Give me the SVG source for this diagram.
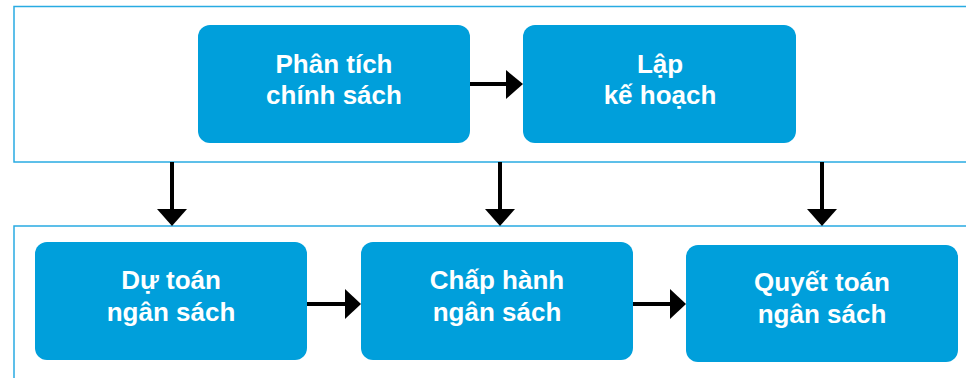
<svg xmlns="http://www.w3.org/2000/svg" width="966" height="378" viewBox="0 0 966 378">
<style>
.frame{fill:none;stroke:#29abe2;stroke-width:1.5}
.box{fill:#009fdb}
.lbl{fill:#fff;font-family:"Liberation Sans",Arial,sans-serif;font-weight:bold;font-size:26px;text-anchor:middle}
.conn{stroke:#000;stroke-width:4;fill:none}
.head{fill:#000}
</style>
<rect width="966" height="378" fill="#fff"/>
<rect class="frame" x="14" y="6.5" width="1000" height="155.5"/>
<rect class="frame" x="14" y="226" width="1000" height="200"/>
<g id="phan-tich">
<rect class="box" x="198" y="25" width="272" height="118" rx="12"/>
<text class="lbl" x="334" y="72.5">Phân tích</text>
<text class="lbl" x="334" y="104">chính sách</text>
</g>
<g id="lap-ke-hoach">
<rect class="box" x="523" y="25" width="273" height="118" rx="12"/>
<text class="lbl" x="660" y="72.5">Lập</text>
<text class="lbl" x="660" y="104">kế hoạch</text>
</g>
<g id="du-toan">
<rect class="box" x="35" y="242" width="272" height="118" rx="12"/>
<text class="lbl" x="171" y="289">Dự toán</text>
<text class="lbl" x="171" y="321">ngân sách</text>
</g>
<g id="chap-hanh">
<rect class="box" x="361" y="242" width="272" height="118" rx="12"/>
<text class="lbl" x="497" y="289">Chấp hành</text>
<text class="lbl" x="497" y="321">ngân sách</text>
</g>
<g id="quyet-toan">
<rect class="box" x="686" y="245" width="272" height="117" rx="12"/>
<text class="lbl" x="822" y="291">Quyết toán</text>
<text class="lbl" x="822" y="323">ngân sách</text>
</g>
<g id="connectors">
<line class="conn" x1="470" y1="84" x2="507" y2="84"/>
<polygon class="head" points="506,70 523,84 506,99"/>
<line class="conn" x1="172" y1="162" x2="172" y2="210"/>
<polygon class="head" points="157,209 187,209 172,226"/>
<line class="conn" x1="500" y1="162" x2="500" y2="210"/>
<polygon class="head" points="485,209 515,209 500,226"/>
<line class="conn" x1="822" y1="162" x2="822" y2="210"/>
<polygon class="head" points="807,209 837,209 822,226"/>
<line class="conn" x1="307" y1="304" x2="346" y2="304"/>
<polygon class="head" points="345,289 361,304 345,319"/>
<line class="conn" x1="633" y1="304" x2="671" y2="304"/>
<polygon class="head" points="670,289 686,304 670,319"/>
</g>
</svg>
